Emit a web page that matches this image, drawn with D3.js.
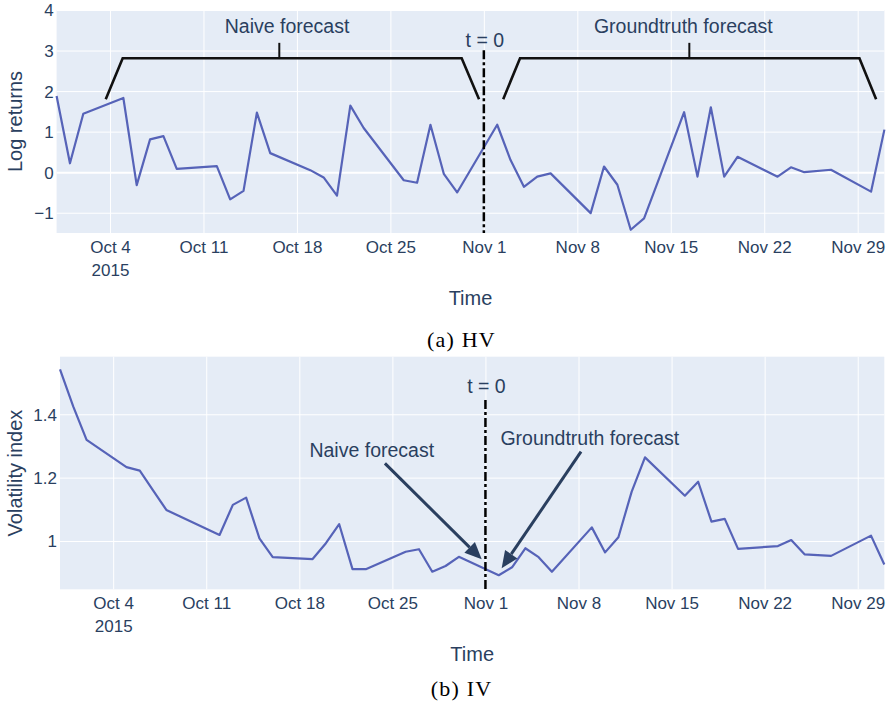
<!DOCTYPE html>
<html>
<head>
<meta charset="utf-8">
<script src="https://cdn.jsdelivr.net/npm/d3@7"></script>
<style>
body{margin:0;background:#fff}
svg text{font-family:"Liberation Sans",Arial,sans-serif;fill:#2a3f5f}
</style>
</head>
<body>
<script>
// trading days, Sep 30 - Dec 1 2015
var dates = ["2015-09-30","2015-10-01","2015-10-02","2015-10-05","2015-10-06","2015-10-07","2015-10-08","2015-10-09",
  "2015-10-12","2015-10-13","2015-10-14","2015-10-15","2015-10-16","2015-10-19","2015-10-20","2015-10-21","2015-10-22","2015-10-23",
  "2015-10-26","2015-10-27","2015-10-28","2015-10-29","2015-10-30","2015-11-02","2015-11-03","2015-11-04","2015-11-05","2015-11-06",
  "2015-11-09","2015-11-10","2015-11-11","2015-11-12","2015-11-13","2015-11-16","2015-11-17","2015-11-18","2015-11-19","2015-11-20",
  "2015-11-23","2015-11-24","2015-11-25","2015-11-27","2015-11-30","2015-12-01"]

var logReturns = [1.88,0.22,1.44,1.83,-0.32,0.81,0.89,0.08,
  0.15,-0.67,-0.46,1.47,0.47,0.05,-0.13,-0.58,1.64,1.09,
  -0.2,-0.26,1.17,-0.04,-0.5,1.17,0.3,-0.36,-0.11,-0.03,
  -1.01,0.14,-0.31,-1.42,-1.14,1.48,-0.11,1.6,-0.11,0.38,
  -0.11,0.12,0.0,0.06,-0.48,1.05]

var volIndex = [1.542,1.424,1.319,1.233,1.222,1.16,1.098,1.078,
  1.019,1.114,1.137,1.008,0.949,0.943,0.993,1.053,0.911,0.911,
  0.966,0.974,0.903,0.921,0.950,0.892,0.917,0.977,0.949,0.903,
  1.043,0.964,1.012,1.156,1.264,1.143,1.187,1.061,1.070,0.975,
  0.984,1.003,0.958,0.953,1.017,0.926]

var xTicks = ["2015-10-04","2015-10-11","2015-10-18","2015-10-25","2015-11-01","2015-11-08","2015-11-15","2015-11-22","2015-11-29"]
var logTicks = [-1,0,1,2,3,4]
var volTicks = [1,1.2,1.4]
var tZero = "2015-11-01"

// annotations: [days after Oct 4, value]
var naiveBracket = [[-0.32,1.80],[0.95,2.81],[26.34,2.81],[27.64,1.80]]
var naiveStem = [[12.68,2.81],[12.68,3.19]]
var truthBracket = [[29.45,1.80],[30.71,2.81],[56.13,2.81],[57.38,1.80]]
var truthStem = [[43.39,2.81],[43.39,3.19]]
var naiveArrow = [[20.44,1.245],[27.72,0.942]]
var truthArrow = [[35.19,1.282],[29.22,0.914]]

var parse = d3.utcParse("%Y-%m-%d")
var origin = parse("2015-10-04")
var dayAt = d => new Date(+origin + d*864e5)
var fmtDay = d3.utcFormat("%b %-d")

var svg = d3.select("body").append("svg").attr("width", 892).attr("height", 711)

function panel(o){
    var data = dates.map((d,i) => ({date: parse(d), v: o.values[i]}))
    var x = d3.scaleUtc().domain(d3.extent(data, d => d.date)).range([o.left, o.right])
    var y = d3.scaleLinear().domain(o.yDomain).range([o.bottom, o.top])
    var h = o.bottom - o.top, w = o.right - o.left
    var g = svg.append("g")

    g.append("rect").attr("x", o.left).attr("y", o.top).attr("width", w).attr("height", h).attr("fill", "#e5ecf6")

    // grid
    g.append("g").attr("transform", "translate(0," + o.bottom + ")")
      .call(d3.axisBottom(x).tickValues(xTicks.map(parse)).tickSize(-h).tickFormat(""))
      .call(a => a.select(".domain").remove())
      .selectAll("line").attr("stroke", "#fff").attr("stroke-width", 1)
    g.append("g").attr("transform", "translate(" + o.left + ",0)")
      .call(d3.axisLeft(y).tickValues(o.ticks).tickSize(-w).tickFormat(""))
      .call(a => a.select(".domain").remove())
      .selectAll("line").attr("stroke", "#fff").attr("stroke-width", d => (d === 0 ? 2 : 1))

    // tick labels
    var xa = g.append("g").attr("transform", "translate(0," + o.bottom + ")")
      .call(d3.axisBottom(x).tickValues(xTicks.map(parse)).tickSize(0).tickFormat(fmtDay))
    xa.select(".domain").remove()
    xa.selectAll("text").attr("y", 20).attr("dy", null).attr("font-size", 17).attr("fill", "#2a3f5f")
    xa.select(".tick text").append("tspan").attr("x", 0).attr("dy", 23).text("2015")

    var ya = g.append("g").attr("transform", "translate(" + o.left + ",0)")
      .call(d3.axisLeft(y).tickValues(o.ticks).tickSize(0).tickPadding(3).tickFormat(d3.format("")))
    ya.select(".domain").remove()
    ya.selectAll("text").attr("font-size", 17).attr("fill", "#2a3f5f").attr("dy", "0.35em")

    // titles
    g.append("text").attr("x", (o.left + o.right)/2).attr("y", o.bottom + 72)
      .attr("text-anchor", "middle").attr("font-size", 20).text("Time")
    g.append("text").attr("transform", "translate(22," + (o.top + h/2) + ") rotate(-90)")
      .attr("text-anchor", "middle").attr("font-size", 20).text(o.ylabel)
    g.append("text").attr("x", 461.5).attr("y", o.captionY).attr("text-anchor", "middle")
      .style("font-family", "'Liberation Serif','Times New Roman',serif").style("fill", "#000")
      .attr("font-size", 22).attr("letter-spacing", 1.2).text(o.caption)

    // series
    g.append("path").datum(data)
      .attr("fill", "none").attr("stroke", "#5663b8").attr("stroke-width", 2.2).attr("stroke-linejoin", "round")
      .attr("d", d3.line().x(d => x(d.date)).y(d => y(d.v)))

    // t = 0
    g.append("line").attr("x1", x(parse(tZero))).attr("x2", x(parse(tZero)))
      .attr("y1", y(o.tLineFrom)).attr("y2", o.bottom)
      .attr("stroke", "#000").attr("stroke-width", 2.5).attr("stroke-dasharray", "9,3,3,3")
    g.append("text").attr("x", x(parse(tZero)) + 1).attr("y", y(o.tTextAt))
      .attr("text-anchor", "middle").attr("font-size", 19.5).text("t = 0")

    o.extra(g, x, y)
}

function bracketPath(x, y, pts){
    return d3.line().x(p => x(dayAt(p[0]))).y(p => y(p[1]))(pts)
}

function drawArrow(g, x, y, pts){
    var x0 = x(dayAt(pts[0][0])), y0 = y(pts[0][1])
    var x1 = x(dayAt(pts[1][0])), y1 = y(pts[1][1])
    var ang = Math.atan2(y1 - y0, x1 - x0)
    var len = 17, hw = 7.5
    var bx = x1 - len*Math.cos(ang), by = y1 - len*Math.sin(ang)
    g.append("line").attr("x1", x0).attr("y1", y0).attr("x2", bx).attr("y2", by)
      .attr("stroke", "#2a3f5f").attr("stroke-width", 3)
    var px = -Math.sin(ang)*hw, py = Math.cos(ang)*hw
    g.append("path")
      .attr("d", "M" + x1 + "," + y1 + "L" + (bx + px) + "," + (by + py) + "L" + (bx - px) + "," + (by - py) + "Z")
      .attr("fill", "#2a3f5f")
}

panel({
    left: 56.6, right: 884.4, top: 10, bottom: 233,
    yDomain: [-1.5, 4], ticks: logTicks, values: logReturns,
    ylabel: "Log returns", caption: "(a) HV", captionY: 346.5,
    tLineFrom: 3.01, tTextAt: 3.09,
    extra: function(g, x, y){
        [[naiveBracket, naiveStem], [truthBracket, truthStem]].forEach(b => {
            g.append("path").attr("d", bracketPath(x, y, b[0])).attr("fill", "none")
              .attr("stroke", "#111").attr("stroke-width", 2.6).attr("stroke-linejoin", "miter")
            g.append("path").attr("d", bracketPath(x, y, b[1])).attr("stroke", "#111").attr("stroke-width", 2)
        })
        g.append("text").attr("x", x(dayAt(13.26))).attr("y", y(3.43)).attr("text-anchor", "middle")
          .attr("font-size", 19.5).text("Naive forecast")
        g.append("text").attr("x", x(dayAt(42.94))).attr("y", y(3.43)).attr("text-anchor", "middle")
          .attr("font-size", 19.5).text("Groundtruth forecast")
    }
})

panel({
    left: 60, right: 884.3, top: 356.7, bottom: 589.3,
    yDomain: [0.8475, 1.5818], ticks: volTicks, values: volIndex,
    ylabel: "Volatility index", caption: "(b) IV", captionY: 696,
    tLineFrom: 1.445, tTextAt: 1.467,
    extra: function(g, x, y){
        drawArrow(g, x, y, naiveArrow)
        drawArrow(g, x, y, truthArrow)
        g.append("text").attr("x", x(dayAt(19.45))).attr("y", y(1.266)).attr("text-anchor", "middle")
          .attr("font-size", 19.5).text("Naive forecast")
        g.append("text").attr("x", x(dayAt(35.85))).attr("y", y(1.303)).attr("text-anchor", "middle")
          .attr("font-size", 19.5).text("Groundtruth forecast")
    }
})
</script>
</body>
</html>
